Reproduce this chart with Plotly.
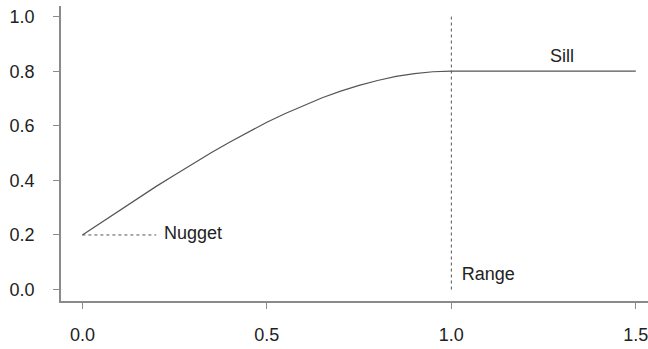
import plotly.graph_objects as go

# Spherical variogram: nugget 0.2, sill 0.8, range 1.0
lag = [0.00, 0.05, 0.10, 0.15, 0.20, 0.25, 0.30, 0.35, 0.40, 0.45, 0.50,
       0.55, 0.60, 0.65, 0.70, 0.75, 0.80, 0.85, 0.90, 0.95, 1.00, 1.50]
semivariance = [0.200, 0.245, 0.290, 0.334, 0.378, 0.420, 0.462, 0.502, 0.541, 0.578, 0.613,
                0.645, 0.675, 0.703, 0.727, 0.748, 0.766, 0.781, 0.791, 0.798, 0.800, 0.800]

nugget = 0.2
sill = 0.8
range_h = 1.0

x_ticks = [0.0, 0.5, 1.0, 1.5]
x_tick_text = ["0.0", "0.5", "1.0", "1.5"]
y_ticks = [0.0, 0.2, 0.4, 0.6, 0.8, 1.0]
y_tick_text = ["0.0", "0.2", "0.4", "0.6", "0.8", "1.0"]

labels = ["Nugget", "Sill", "Range"]
label_x = [0.30, 1.30, 1.10]
label_y = [0.20, 0.85, 0.05]

FONT = "Liberation Sans, Arial, Helvetica, sans-serif"
INK = "#222222"
SIZE = 18

fig = go.Figure()

# model curve
fig.add_trace(go.Scatter(
    x=lag, y=semivariance, mode="lines",
    line=dict(color="#555555", width=1.2),
    hoverinfo="skip", showlegend=False,
))

# nugget marker (dotted horizontal)
fig.add_trace(go.Scatter(
    x=[0.0, 0.2], y=[nugget, nugget], mode="lines",
    line=dict(color="#555555", width=1, dash="dot"),
    hoverinfo="skip", showlegend=False,
))

# range marker (dotted vertical)
fig.add_trace(go.Scatter(
    x=[range_h, range_h], y=[0.0, 1.0], mode="lines",
    line=dict(color="#555555", width=1, dash="dot"),
    hoverinfo="skip", showlegend=False,
))

# annotations
fig.add_trace(go.Scatter(
    x=label_x, y=label_y, mode="text", text=labels,
    textposition="middle center",
    textfont=dict(family=FONT, size=SIZE, color=INK),
    hoverinfo="skip", showlegend=False,
))

axis_common = dict(
    showline=True, linecolor="#8a8a8a", linewidth=1.5,
    ticks="outside", ticklen=6, tickwidth=1.2, tickcolor="#8a8a8a",
    showgrid=False, zeroline=False,
    tickfont=dict(family=FONT, size=SIZE, color=INK),
    ticklabeloverflow="allow",
)

fig.update_xaxes(
    range=[-0.058, 1.533], tickvals=x_ticks, ticktext=x_tick_text,
    ticklabelstandoff=11, **axis_common,
)
fig.update_yaxes(
    range=[-0.042, 1.039], tickvals=y_ticks, ticktext=y_tick_text,
    ticklabelstandoff=15, **axis_common,
)

fig.update_layout(
    width=648, height=349,
    margin=dict(l=61, r=0, t=6, b=48),
    plot_bgcolor="white", paper_bgcolor="white",
    font=dict(family=FONT, size=SIZE, color=INK),
)

fig.write_html("out.html")
